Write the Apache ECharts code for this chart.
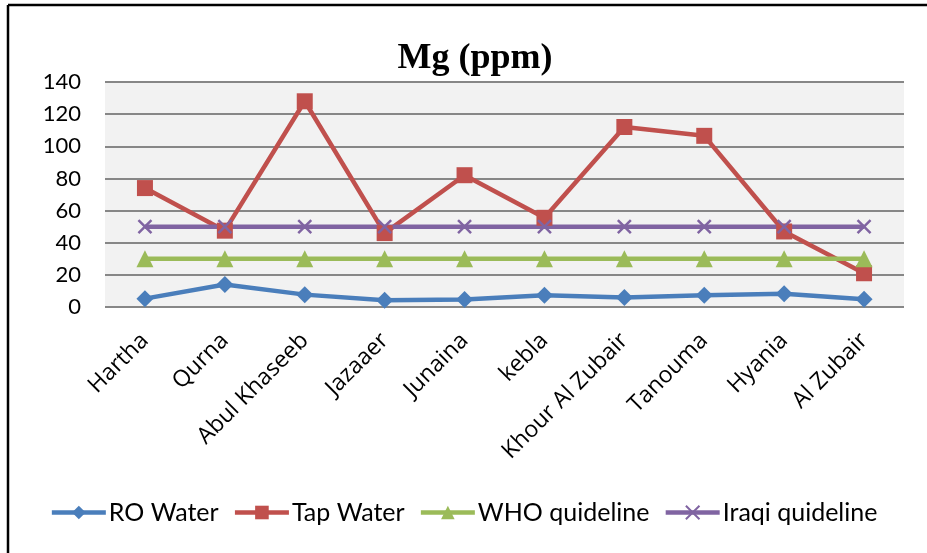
<!DOCTYPE html>
<html>
<head>
<meta charset="utf-8">
<script src="https://cdn.jsdelivr.net/npm/echarts@6/dist/echarts.min.js"></script>
<style>
  html, body { margin: 0; padding: 0; background: #fff; }
  #chart { width: 927px; height: 553px; }
</style>
</head>
<body>
<div id="chart"></div>
<script>
// Sampling sites
const sites = ['Hartha', 'Qurna', 'Abul Khaseeb', 'Jazaaer', 'Junaina', 'kebla',
  'Khour Al Zubair', 'Tanouma', 'Hyania', 'Al Zubair'];

// Magnesium concentration (ppm)
const roWater = [5.2, 14, 7.7, 4.2, 4.6, 7.3, 5.9, 7.3, 8.3, 4.8];
const tapWater = [74, 47.5, 128, 46, 82, 55.5, 112, 106.5, 47, 21];
const whoGuideline = [30, 30, 30, 30, 30, 30, 30, 30, 30, 30];
const iraqiGuideline = [50, 50, 50, 50, 50, 50, 50, 50, 50, 50];

const yTicks = [0, 20, 40, 60, 80, 100, 120, 140];

const labelFont = 'Lato, "Open Sans", sans-serif';
const crossPath = 'path://M0,0 L10,10 M10,0 L0,10';

function lineSeries(name, data, color, symbol, size) {
  return {
    name: name,
    type: 'line',
    data: data,
    symbol: symbol,
    symbolSize: size,
    lineStyle: { color: color, width: 4.5 },
    itemStyle: { color: color, borderColor: color, borderWidth: 0 },
    emphasis: { disabled: true },
    animation: false
  };
}

const chart = echarts.init(document.getElementById('chart'), null, { renderer: 'canvas' });
chart.setOption({
  backgroundColor: '#ffffff',
  title: {
    text: 'Mg (ppm)',
    left: 470,
    top: 36,
    textAlign: 'center',
    textStyle: { fontFamily: '"Liberation Serif", "Times New Roman", serif', fontWeight: 'bold', fontSize: 36, color: '#000' }
  },
  graphic: [
    { type: 'line', shape: { x1: 8, y1: 5, x2: 927, y2: 5 }, style: { stroke: '#000', lineWidth: 2.5 } },
    { type: 'line', shape: { x1: 8, y1: 5, x2: 8, y2: 553 }, style: { stroke: '#000', lineWidth: 2.5 } }
  ],
  legend: {
    top: 495,
    left: 'center',
    itemWidth: 54,
    itemHeight: 17,
    itemGap: 14,
    lineStyle: { width: 4.5 },
    textStyle: { fontFamily: labelFont, fontSize: 25, color: '#000', padding: [0, 0, 0, -2] },
    data: ['RO Water', 'Tap Water', 'WHO quideline', 'Iraqi quideline']
  },
  grid: { left: 105, right: 23, top: 82, bottom: 246, containLabel: false },
  xAxis: {
    type: 'category',
    data: sites,
    boundaryGap: true,
    axisLine: { show: false },
    axisTick: { show: false },
    axisLabel: {
      rotate: 45,
      interval: 0,
      margin: 30,
      fontFamily: '"Open Sans", sans-serif',
      fontSize: 23,
      color: '#000'
    }
  },
  yAxis: {
    type: 'value',
    min: yTicks[0],
    max: yTicks[yTicks.length - 1],
    interval: 20,
    axisLine: { show: false },
    axisTick: { show: false },
    axisLabel: { fontFamily: labelFont, fontSize: 22, color: '#000', margin: 24 },
    splitLine: { lineStyle: { color: '#878787', width: 2 } },
    splitArea: { show: true, areaStyle: { color: ['#f2f2f2', '#f2f2f2'] } }
  },
  series: [
    lineSeries('RO Water', roWater, '#4a7ebb', 'diamond', 17),
    lineSeries('Tap Water', tapWater, '#c0504d', 'rect', 16),
    lineSeries('WHO quideline', whoGuideline, '#9bbb59', 'triangle', 17),
    Object.assign(lineSeries('Iraqi quideline', iraqiGuideline, '#8064a2', crossPath, 13), {
      itemStyle: { color: 'none', borderColor: '#8064a2', borderWidth: 2.5 }
    })
  ]
});
</script>
</body>
</html>
